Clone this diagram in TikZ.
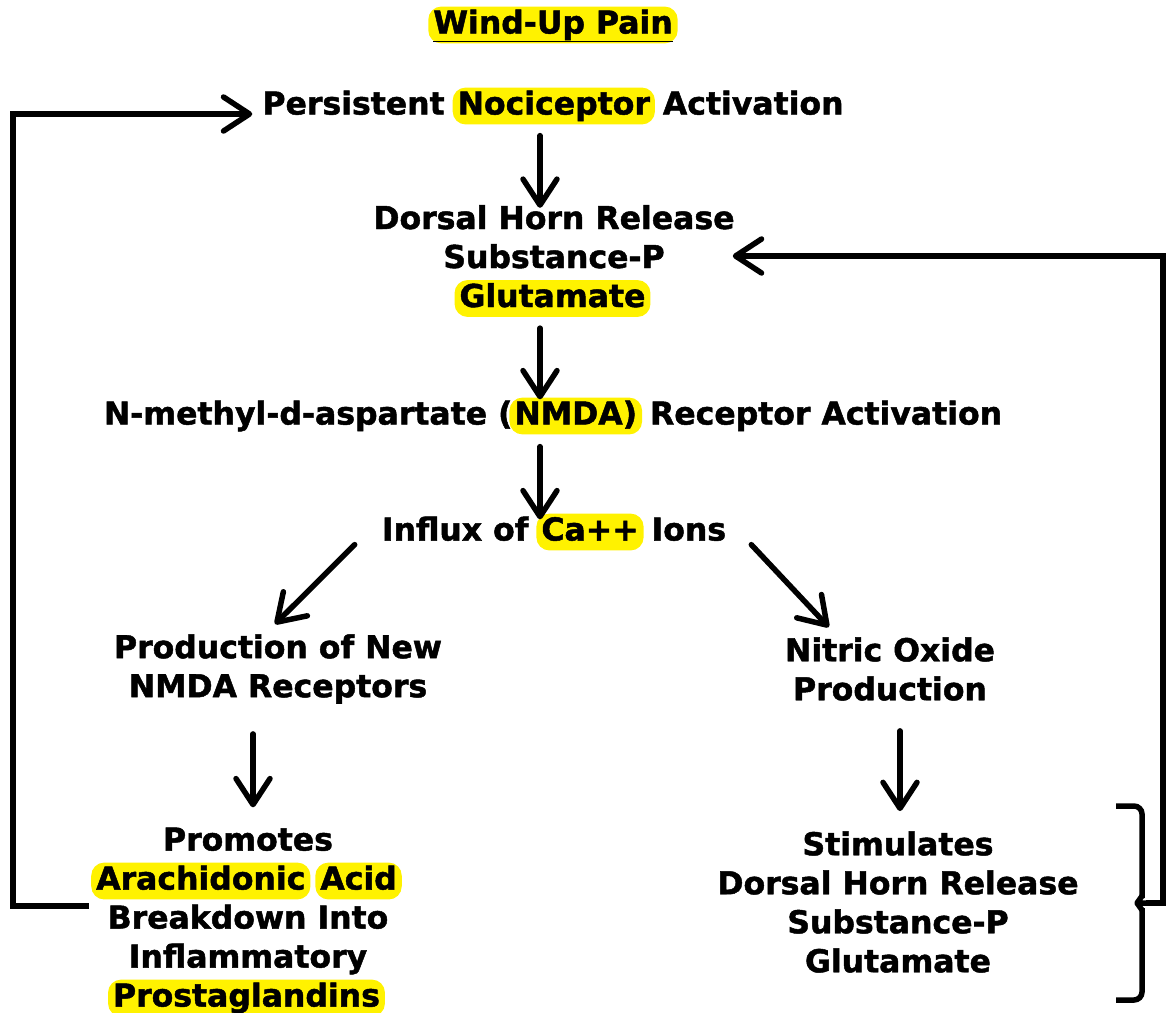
\documentclass[tikz,border=0pt]{standalone}
\usepackage{fontspec}
\setmainfont[BoldFeatures={FakeBold=1.5}]{DejaVu Sans}
\usetikzlibrary{positioning,arrows.meta}

\newcommand{\hl}[1]{\hspace{-3pt}\tikz[baseline=(h.base)]\node[fill=yellow, rounded corners=13pt, inner xsep=5pt, inner ysep=3pt, text height=0.76em, text depth=0.22em] (h) {#1};\hspace{-3pt}}

\begin{document}
\begin{tikzpicture}[
    x=1pt, y=-1pt,
    txt/.style={font=\fontsize{31.5}{39}\selectfont\bfseries, align=center, inner sep=0pt},
    arrow/.style={-{Straight Barb[length=26pt,width=34pt,round]}, line width=5.5pt, line cap=round},
    line/.style={line width=5.5pt}
  ]
    \useasboundingbox (0,0) rectangle (1167,1012);

    % Title
    \node[txt] (title) at (553,25) {\hl{\underline{Wind-Up Pain}}};

    % Main chain
    \node[txt] (persist) at (553,106) {Persistent \hl{Nociceptor} Activation};
    \node[txt] (dorsal) at (554,261) {Dorsal Horn Release\\Substance-P\\\hl{Glutamate}};
    \node[txt] (nmda) at (553,416) {N-methyl-d-aspartate (\hl{NMDA)} Receptor Activation};
    \node[txt] (influx) at (554,532) {Influx of \hl{Ca++} Ions};

    % Branches
    \node[txt] (prod) at (278,669) {Production of New\\NMDA Receptors};
    \node[txt] (nitric) at (890,669) {Nitric Oxide\\Production};
    \node[txt] (promo) at (248,922) {Promotes\\\hl{Arachidonic} \hl{Acid}\\Breakdown Into\\Inflammatory\\\hl{Prostaglandins}};
    \node[txt] (stim) at (898,902) {Stimulates\\Dorsal Horn Release\\Substance-P\\Glutamate};

    % Helper points
    \coordinate (lft) at (13,500);
    \coordinate (rgt) at (1163,500);
    \coordinate (tip) at (1146,903);

    % Brace
    \draw[line, rounded corners=8pt] (1116,806) -- (1142,806) -- (1142,898);
    \draw[line, rounded corners=8pt] (1116,1000) -- (1142,1000) -- (1142,908);
    \draw[line, line join=round] (1142,896) -- (1137,903) -- (tip) (1137,903) -- (1142,910);

    % Connections
    \draw[arrow] ([xshift=-13pt,yshift=-11pt]persist.south) -- ([xshift=-14pt,yshift=-3pt]dorsal.north);
    \draw[arrow] ([xshift=-14pt,yshift=-11pt]dorsal.south) -- ([xshift=-13pt,yshift=-2pt]nmda.north);
    \draw[arrow] ([xshift=-13pt,yshift=-12pt]nmda.south) -- ([xshift=-14pt,yshift=-6pt]influx.north);
    \draw[arrow] ([xshift=-27pt,yshift=6pt]influx.south west) -- ([xshift=-3pt,yshift=10pt]prod.north);
    \draw[arrow] ([xshift=25pt,yshift=6pt]influx.south east) -- ([xshift=44pt,yshift=10pt]nitric.north west);
    \draw[arrow] ([xshift=-25pt,yshift=-30pt]prod.south) -- ([xshift=5pt,yshift=20pt]promo.north);
    \draw[arrow] ([xshift=10pt,yshift=-30pt]nitric.south) -- ([xshift=2pt,yshift=20pt]stim.north);
    \draw[arrow, line cap=butt] ([xshift=-5pt,yshift=16pt]promo.west) -| (lft) |- ([xshift=-10pt,yshift=-8pt]persist.west);
    \draw[arrow, line cap=butt] (tip) -| (rgt) |- ([xshift=-2pt,yshift=5pt]dorsal.east);
  \end{tikzpicture}
\end{document}
